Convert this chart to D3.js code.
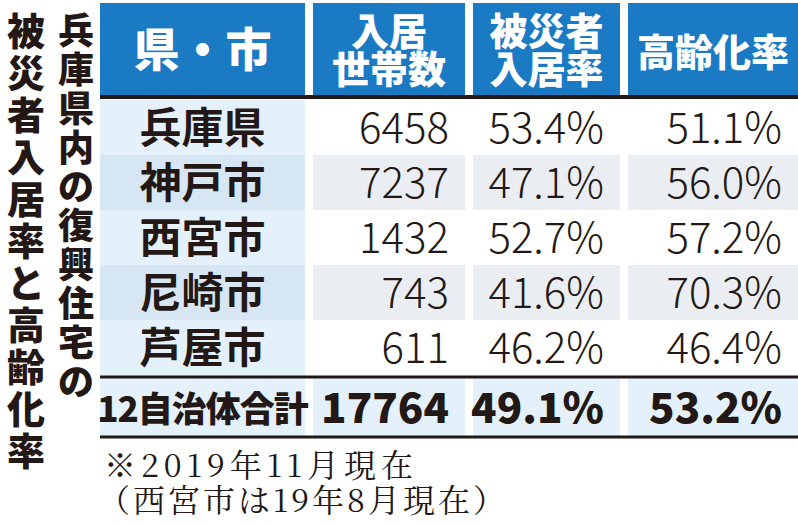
<!DOCTYPE html><html><head><meta charset="utf-8">
<script src="https://cdn.jsdelivr.net/npm/d3@7"></script>
<style>body{margin:0;background:#fff}</style></head><body><svg id="c" width="798" height="526"></svg>
<script>
const titleRight = "兵庫県内の復興住宅の";
const titleLeft = "被災者入居率と高齢化率";
const headers = [["県・市"],["入居","世帯数"],["被災者","入居率"],["高齢化率"]];
const regions = ["兵庫県","神戸市","西宮市","尼崎市","芦屋市"];
const households = [6458,7237,1432,743,611];
const victimRate = [53.4,47.1,52.7,41.6,46.2];
const agingRate = [51.1,56.0,57.2,70.3,46.4];
const totalLabel = "12自治体合計";
const totals = [17764,49.1,53.2];
const notes = ["※2019年11月現在","（西宮市は19年8月現在）"];

const svg = d3.select("#c");
const F = "'Noto Sans CJK JP','Noto Sans',sans-serif";
const serif = "'Noto Serif CJK JP','DejaVu Serif',serif";
[[titleRight,76,39,36],[titleLeft,26,42,38]].forEach(([t,x,step,fs])=>{
  svg.selectAll(null).data(Array.from(t)).join("text")
   .attr("x",x).attr("y",(d,i)=>12+step*i+fs*0.88)
   .attr("text-anchor","middle").attr("font-family",F).attr("font-weight",900)
   .attr("font-size",fs).attr("fill","#231815").text(d=>d);
});
const cols=[[100,305],[313,465],[473,620],[628,798]];
headers.forEach((h,i)=>{
  const [a,b]=cols[i];
  svg.append("rect").attr("x",a).attr("y",3).attr("width",b-a).attr("height",94).attr("fill","#1a7ac4");
  const fs = h.length===1?(i===0?46:38):38;
  h.forEach((s,j)=>svg.append("text").attr("x",(a+b)/2).attr("y",h.length===1?66:45+j*38)
    .attr("text-anchor","middle").attr("font-family",F).attr("font-weight",900).attr("font-size",fs)
    .attr("fill","#fff").text(s));
});
const y=d3.scaleBand().domain(d3.range(regions.length)).range([100,375]);
regions.forEach((r,i)=>{
  const y0=y(i),h=y.bandwidth();
  cols.forEach(([a,b],c)=>{
    svg.append("rect").attr("x",a).attr("y",y0).attr("width",b-a).attr("height",h)
      .attr("fill", c===0?(i%2?"#d6e7f3":"#e4f1fa"):(i%2?"#eaeef2":"#ffffff"));
  });
  svg.append("text").attr("x",(cols[0][0]+cols[0][1])/2).attr("y",y0+h/2+15).attr("text-anchor","middle")
    .attr("font-family",F).attr("font-weight",700).attr("font-size",42).attr("fill","#231815").text(r);
  const vals=[households[i],victimRate[i].toFixed(1)+"%",agingRate[i].toFixed(1)+"%"];
  vals.forEach((v,k)=>svg.append("text").attr("x",cols[k+1][1]-16).attr("y",y0+h/2+15).attr("text-anchor","end")
    .attr("font-family",F).attr("font-weight",300).attr("font-size",42).attr("fill","#231815").text(v));
});
cols.forEach(([a,b])=>svg.append("rect").attr("x",a).attr("y",378).attr("width",b-a).attr("height",59).attr("fill","#e4f1fa"));
svg.append("text").attr("x",(cols[0][0]+cols[0][1])/2).attr("y",422).attr("text-anchor","middle")
  .attr("font-family",F).attr("font-weight",900).attr("font-size",35).attr("letter-spacing",-1).attr("fill","#231815").text(totalLabel);
[totals[0],totals[1].toFixed(1)+"%",totals[2].toFixed(1)+"%"].forEach((v,k)=>
  svg.append("text").attr("x",cols[k+1][1]-16).attr("y",423).attr("text-anchor","end")
    .attr("font-family",F).attr("font-weight",900).attr("font-size",42).attr("fill","#231815").text(v));
[[97,4],[377,3],[437,3]].forEach(([yy,w])=>svg.append("line").attr("x1",100).attr("x2",798).attr("y1",yy).attr("y2",yy)
  .attr("stroke","#231815").attr("stroke-width",w));
notes.forEach((n,i)=>svg.append("text").attr("x",i?98:104).attr("y",477+i*35).attr("font-family",serif)
  .attr("font-size",32).attr("letter-spacing",i?3:5).attr("fill","#231815").text(n));
</script></body></html>
